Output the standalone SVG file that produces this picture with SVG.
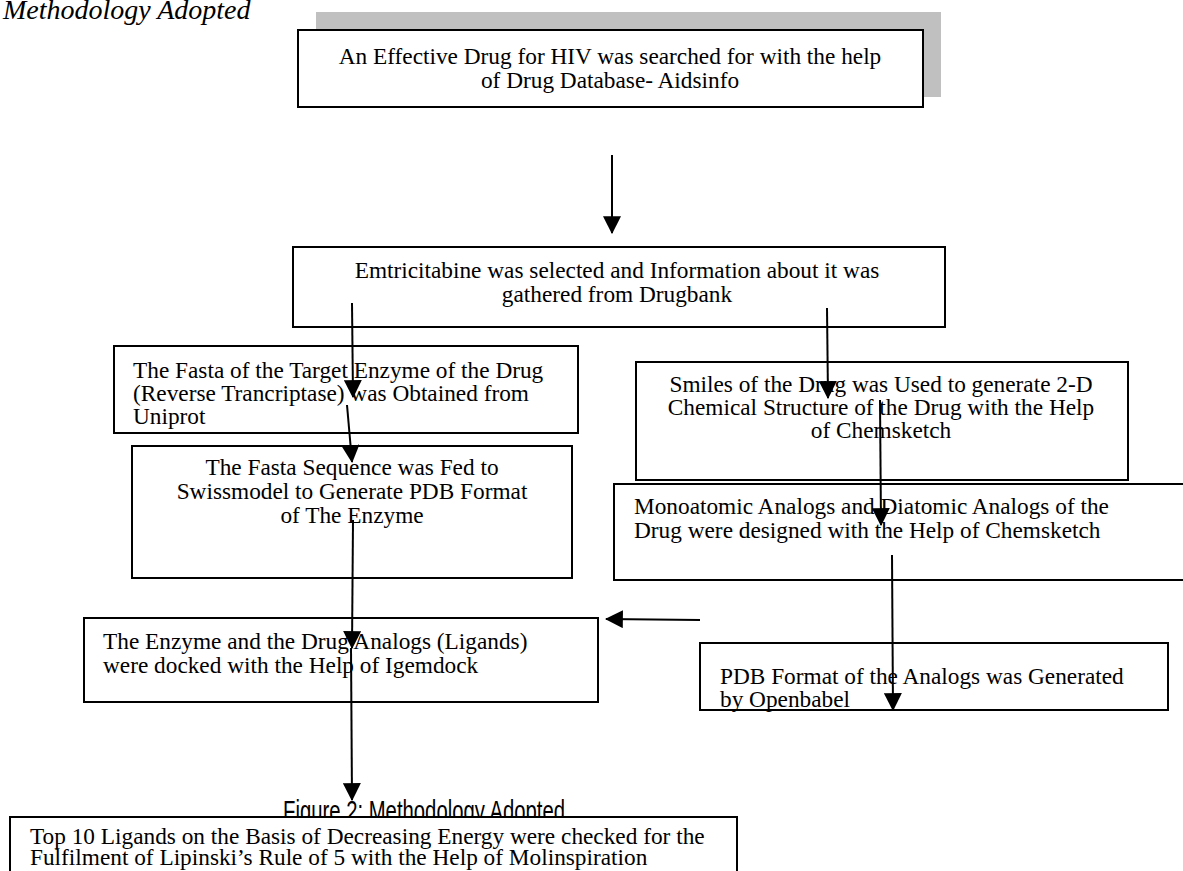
<svg xmlns="http://www.w3.org/2000/svg" width="1183" height="871" viewBox="0 0 1183 871">
<style>
.box{fill:#fff;stroke:#000;stroke-width:2}
.t{font-family:"Liberation Serif","Times New Roman",serif;font-size:23.3px;fill:#000}
.c{text-anchor:middle}
.ln{stroke:#000;stroke-width:2;fill:none}
</style>
<defs>
<marker id="ah" markerUnits="userSpaceOnUse" markerWidth="18" markerHeight="18" viewBox="0 0 16 16" refX="15" refY="8" orient="auto">
<path d="M0,0 L16,8 L0,16 Z" fill="#000"/>
</marker>
</defs>
<rect width="1183" height="871" fill="#fff"/>
<text x="3" y="19" style="font-family:'Liberation Serif','Times New Roman',serif;font-size:28px;font-style:italic">Methodology Adopted</text>

<g id="n1">
<rect x="316" y="12" width="625" height="85" fill="#c0c0c0"/>
<rect class="box" x="298" y="30" width="625" height="77"/>
<text class="t c" x="610" y="64">An Effective Drug for HIV was searched for with the help</text>
<text class="t c" x="610" y="88">of Drug Database- Aidsinfo</text>
</g>
<g id="n2">
<rect class="box" x="293" y="247" width="652" height="80"/>
<text class="t c" x="617" y="278">Emtricitabine was selected and Information about it was</text>
<text class="t c" x="617" y="302">gathered from Drugbank</text>
</g>
<g id="n3">
<rect class="box" x="114" y="346" width="464" height="87"/>
<text class="t" x="133" y="378">The Fasta of the Target Enzyme of the Drug</text>
<text class="t" x="133" y="401">(Reverse Trancriptase) was Obtained from</text>
<text class="t" x="133" y="424">Uniprot</text>
</g>
<g id="n4">
<rect class="box" x="132" y="446" width="440" height="132"/>
<text class="t c" x="352" y="475">The Fasta Sequence was Fed to</text>
<text class="t c" x="352" y="499">Swissmodel to Generate PDB Format</text>
<text class="t c" x="352" y="523">of The Enzyme</text>
</g>
<g id="n5">
<rect class="box" x="636" y="362" width="492" height="118"/>
<text class="t c" x="881" y="392">Smiles of the Drug was Used to generate 2-D</text>
<text class="t c" x="881" y="415">Chemical Structure of the Drug with the Help</text>
<text class="t c" x="881" y="438">of Chemsketch</text>
</g>
<g id="n6">
<rect class="box" x="614" y="484" width="580" height="96"/>
<text class="t" x="634" y="514">Monoatomic Analogs and Diatomic Analogs of the</text>
<text class="t" x="634" y="538">Drug were designed with the Help of Chemsketch</text>
</g>
<g id="n7">
<rect class="box" x="84" y="618" width="514" height="84"/>
<text class="t" x="103" y="649">The Enzyme and the Drug Analogs (Ligands)</text>
<text class="t" x="103" y="673">were docked with the Help of Igemdock</text>
</g>
<g id="n8">
<rect class="box" x="700" y="643" width="468" height="67"/>
<text class="t" x="720" y="684">PDB Format of the Analogs was Generated</text>
<text class="t" x="720" y="707">by Openbabel</text>
</g>
<text x="283" y="821" textLength="282" lengthAdjust="spacingAndGlyphs" style="font-family:'Liberation Sans',Arial,sans-serif;font-size:29px">Figure 2: Methodology Adopted</text>
<g id="n9">
<rect class="box" x="10" y="817" width="727" height="70"/>
<text class="t" x="30" y="844">Top 10 Ligands on the Basis of Decreasing Energy were checked for the</text>
<text class="t" x="30" y="865">Fulfilment of Lipinski’s Rule of 5 with the Help of Molinspiration</text>
</g>

<g id="connectors">
<line class="ln" x1="612" y1="155" x2="612" y2="233" marker-end="url(#ah)"/>
<line class="ln" x1="352" y1="303" x2="353" y2="397" marker-end="url(#ah)"/>
<line class="ln" x1="347" y1="405" x2="352" y2="462" marker-end="url(#ah)"/>
<line class="ln" x1="827" y1="308" x2="828" y2="398" marker-end="url(#ah)"/>
<line class="ln" x1="880" y1="400" x2="881" y2="525" marker-end="url(#ah)"/>
<line class="ln" x1="892" y1="555" x2="893" y2="710" marker-end="url(#ah)"/>
<line class="ln" x1="353" y1="520" x2="352" y2="648" marker-end="url(#ah)"/>
<line class="ln" x1="351" y1="648" x2="352" y2="800" marker-end="url(#ah)"/>
<line class="ln" x1="700" y1="620" x2="606" y2="619" marker-end="url(#ah)"/>
</g>
</svg>
